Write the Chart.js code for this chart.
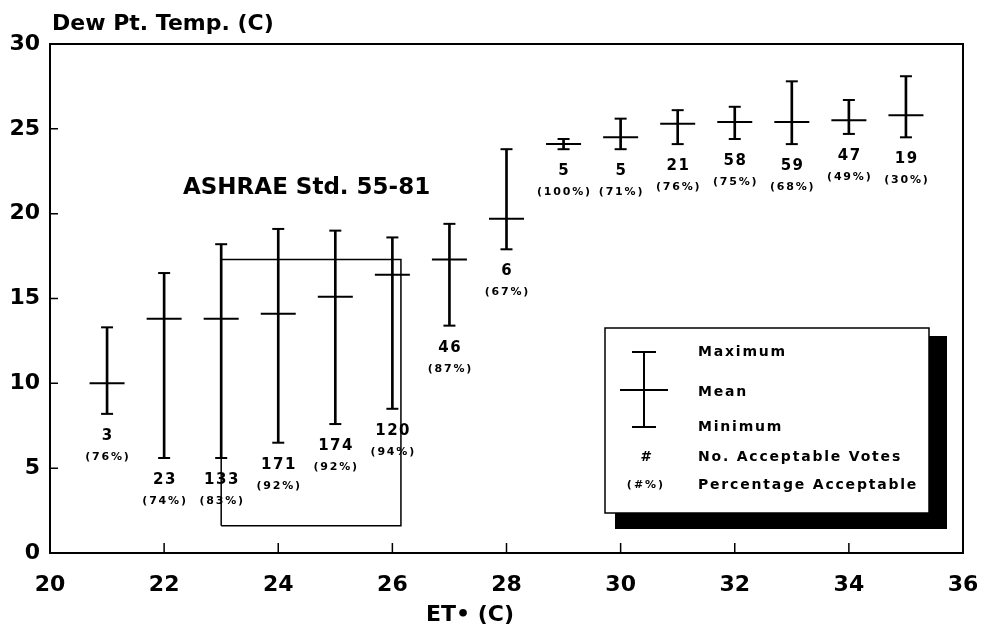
<!DOCTYPE html>
<html>
<head>
<meta charset="utf-8">
<script src="https://cdn.jsdelivr.net/npm/chart.js@4"></script>
<style>
  html, body { margin: 0; padding: 0; background: #fff; }
  #wrap { width: 983px; height: 632px; }
</style>
</head>
<body>
<div id="wrap"><canvas id="c" width="983" height="632"></canvas></div>
<script>
// ET* (C) categories
const etValues = [21, 22, 23, 24, 25, 26, 27, 28, 29, 30, 31, 32, 33, 34, 35];
// Dew point temperature (C)
const dewMax  = [13.3, 16.5, 18.2, 19.1, 19.0, 18.6, 19.4, 23.8, 24.4, 25.6, 26.1, 26.3, 27.8, 26.7, 28.1];
const dewMean = [10.0, 13.8, 13.8, 14.1, 15.1, 16.4, 17.3, 19.7, 24.1, 24.5, 25.3, 25.4, 25.4, 25.5, 25.8];
const dewMin  = [ 8.2,  5.6,  5.6,  6.5,  7.6,  8.5, 13.4, 17.9, 23.8, 23.8, 24.1, 24.4, 24.1, 24.7, 24.5];
// No. acceptable votes and percentage acceptable
const acceptVotes = ['3', '23', '133', '171', '174', '120', '46', '6', '5', '5', '21', '58', '59', '47', '19'];
const acceptPct   = [76, 74, 83, 92, 92, 94, 87, 67, 100, 71, 76, 75, 68, 49, 30];
// ASHRAE Std. 55-81 comfort zone outline
const ashraeX = [23, 23, 26.15, 26.15, 23];
const ashraeY = [1.6, 17.3, 17.3, 1.6, 1.6];
// Axis ticks
const xTicks = [20, 22, 24, 26, 28, 30, 32, 34, 36];
const yTicks = [0, 5, 10, 15, 20, 25, 30];

const FONT = '"DejaVu Sans", "Liberation Sans", sans-serif';

function spacedText(ctx, text, x, y, spacing, align) {
  ctx.save();
  if ('letterSpacing' in ctx) {
    ctx.letterSpacing = spacing + 'px';
    const w = ctx.measureText(text).width - spacing;
    let sx = x;
    if (align === 'center') sx = x - w / 2;
    else if (align === 'right') sx = x - w;
    ctx.textAlign = 'left';
    ctx.fillText(text, sx, y);
  } else {
    ctx.textAlign = align;
    ctx.fillText(text, x, y);
  }
  ctx.restore();
}

const decorPlugin = {
  id: 'decor',
  afterDraw(chart) {
    const ctx = chart.ctx;
    const a = chart.chartArea;
    const xs = chart.scales.x, ys = chart.scales.y;
    ctx.save();
    ctx.strokeStyle = '#000';
    ctx.fillStyle = '#000';
    // frame
    ctx.lineWidth = 2;
    ctx.strokeRect(a.left, a.top, a.right - a.left, a.bottom - a.top);
    // inward ticks
    ctx.lineWidth = 1.5;
    ctx.beginPath();
    xTicks.forEach(v => {
      if (v <= xs.min || v >= xs.max) return;
      const px = xs.getPixelForValue(v);
      ctx.moveTo(px, a.bottom); ctx.lineTo(px, a.bottom - 10);
    });
    yTicks.forEach(v => {
      if (v <= ys.min || v >= ys.max) return;
      const py = ys.getPixelForValue(v);
      ctx.moveTo(a.left, py); ctx.lineTo(a.left + 8, py);
    });
    ctx.stroke();

    // axis titles
    ctx.textBaseline = 'alphabetic';
    ctx.font = 'bold 22px ' + FONT;
    ctx.textAlign = 'left';
    ctx.fillText('Dew Pt. Temp. (C)', 52, 30);
    ctx.textAlign = 'center';
    ctx.fillText('ET\u2022 (C)', 470, 621);

    // ASHRAE label
    ctx.font = 'bold 23px ' + FONT;
    ctx.textAlign = 'left';
    ctx.fillText('ASHRAE Std. 55-81', 183, 194);

    // vote counts and percentages
    ctx.textBaseline = 'middle';
    etValues.forEach((v, i) => {
      const px = xs.getPixelForValue(v);
      const py = ys.getPixelForValue(dewMin[i]);
      ctx.font = 'bold 15px ' + FONT;
      spacedText(ctx, acceptVotes[i], px, py + 22, 1.5, 'center');
      ctx.font = 'bold 11px ' + FONT;
      spacedText(ctx, '(' + acceptPct[i] + '%)', px, py + 43, 1.8, 'center');
    });

    // legend box with shadow
    const bx = 605, by = 328, bw = 324, bh = 185;
    ctx.fillRect(bx + 10, by + 8, bw + 8, bh + 8);
    ctx.fillStyle = '#fff';
    ctx.fillRect(bx, by, bw, bh);
    ctx.fillStyle = '#000';
    ctx.lineWidth = 1.5;
    ctx.strokeRect(bx, by, bw, bh);
    // legend symbol
    ctx.lineWidth = 2;
    ctx.beginPath();
    ctx.moveTo(644, 352); ctx.lineTo(644, 427);
    ctx.moveTo(632, 352); ctx.lineTo(656, 352);
    ctx.moveTo(632, 427); ctx.lineTo(656, 427);
    ctx.moveTo(620, 390); ctx.lineTo(668, 390);
    ctx.stroke();
    ctx.font = 'bold 14px ' + FONT;
    const rows = [['Maximum', 352], ['Mean', 392], ['Minimum', 427], ['No. Acceptable Votes', 457], ['Percentage Acceptable', 485]];
    rows.forEach(r => spacedText(ctx, r[0], 698, r[1], 1.8, 'left'));
    ctx.font = 'italic bold 14px ' + FONT;
    spacedText(ctx, '#', 645, 457, 0, 'center');
    ctx.font = 'bold 11px ' + FONT;
    spacedText(ctx, '(#%)', 645, 485, 2, 'center');
    ctx.restore();
  }
};

const pts = arr => etValues.map((x, i) => ({ x: x, y: arr[i] }));

new Chart(document.getElementById('c'), {
  type: 'scatter',
  data: {
    datasets: [
      {
        type: 'bar',
        label: 'Range',
        data: etValues.map((x, i) => ({ x: x, y: [dewMin[i], dewMax[i]] })),
        backgroundColor: '#000',
        borderWidth: 0,
        barThickness: 2
      },
      {
        label: 'Mean',
        data: pts(dewMean),
        pointStyle: 'line', radius: 17.5, borderWidth: 2, borderColor: '#000', backgroundColor: '#000'
      },
      {
        label: 'Maximum',
        data: pts(dewMax),
        pointStyle: 'line', radius: 6, borderWidth: 2, borderColor: '#000', backgroundColor: '#000'
      },
      {
        label: 'Minimum',
        data: pts(dewMin),
        pointStyle: 'line', radius: 6, borderWidth: 2, borderColor: '#000', backgroundColor: '#000'
      },
      {
        type: 'line',
        label: 'ASHRAE Std. 55-81',
        data: ashraeX.map((x, i) => ({ x: x, y: ashraeY[i] })),
        borderColor: '#000', borderWidth: 1.5, pointRadius: 0, fill: false, tension: 0
      }
    ]
  },
  options: {
    responsive: false,
    devicePixelRatio: 1,
    animation: false,
    events: [],
    layout: { padding: { top: 44, right: 20, bottom: 0, left: 0 } },
    plugins: { legend: { display: false }, tooltip: { enabled: false }, title: { display: false } },
    scales: {
      x: {
        type: 'linear', min: 20, max: 36, offset: false,
        afterBuildTicks: s => { s.ticks = xTicks.map(v => ({ value: v })); },
        afterFit: s => { s.height = 79; s.paddingLeft = 0; s.paddingRight = 0; },
        grid: { display: false, drawTicks: false },
        border: { display: false },
        ticks: { padding: 19, color: '#000', font: { family: FONT, size: 22, weight: 'bold' }, maxRotation: 0, autoSkip: false }
      },
      y: {
        type: 'linear', min: 0, max: 30,
        afterBuildTicks: s => { s.ticks = yTicks.map(v => ({ value: v })); },
        afterFit: s => { s.width = 50; s.paddingTop = 0; s.paddingBottom = 0; },
        grid: { display: false, drawTicks: false },
        border: { display: false },
        ticks: { padding: 10, color: '#000', font: { family: FONT, size: 22, weight: 'bold' } }
      }
    }
  },
  plugins: [decorPlugin]
});
</script>
</body>
</html>
